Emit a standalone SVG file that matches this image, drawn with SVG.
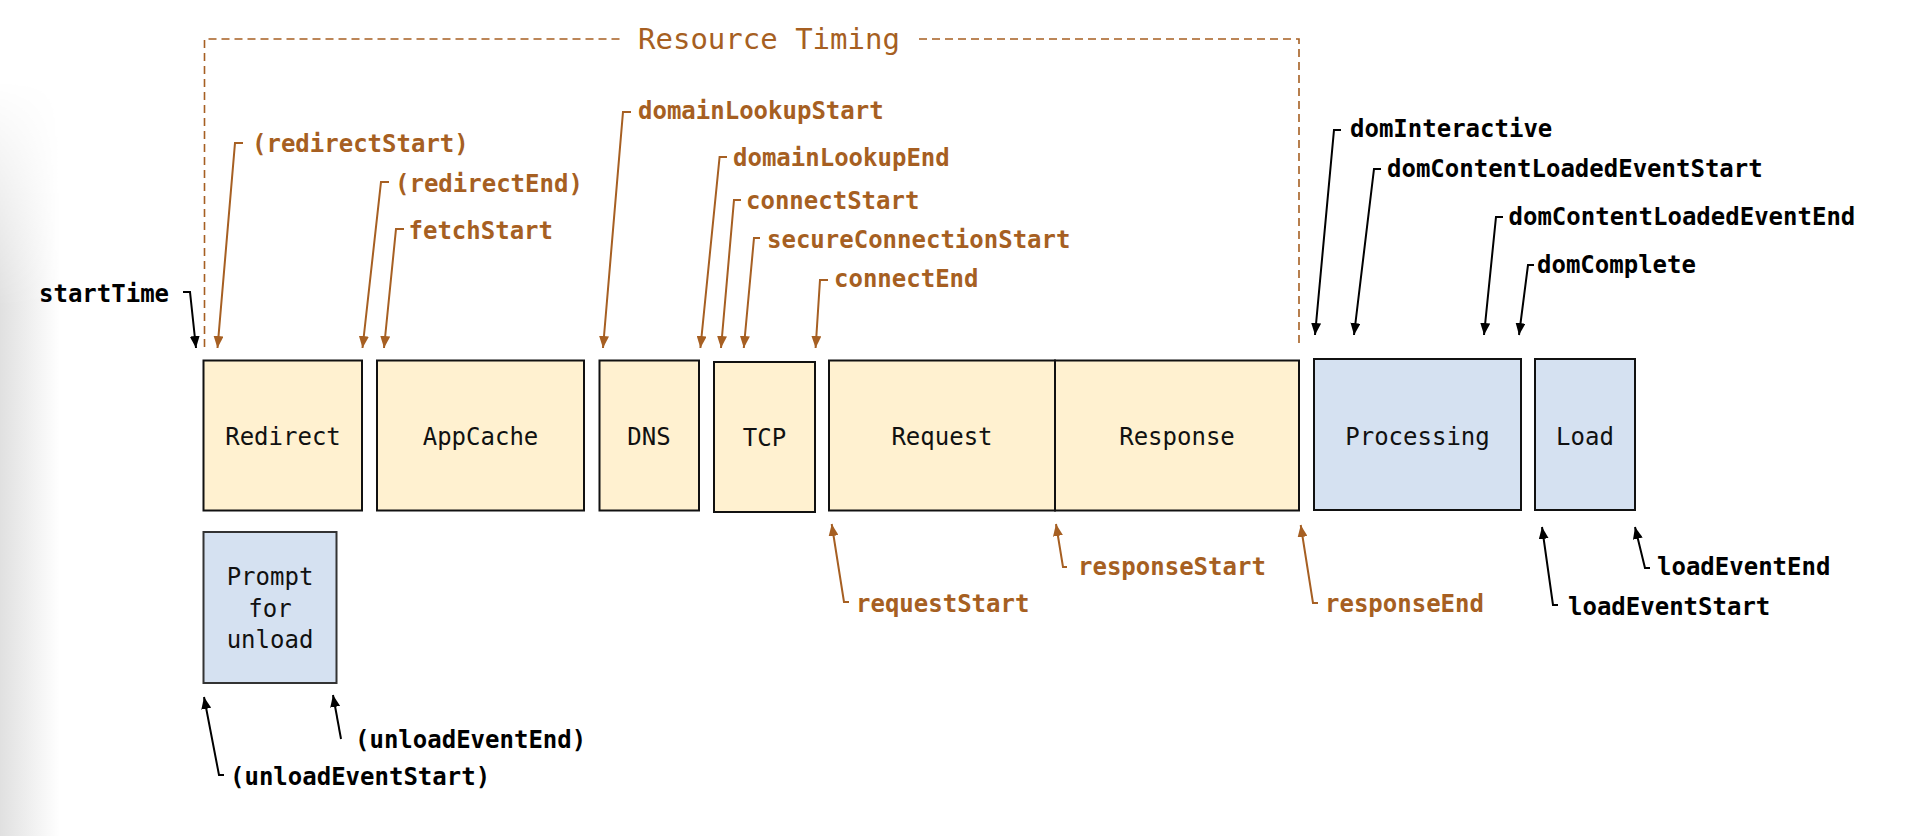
<svg xmlns="http://www.w3.org/2000/svg" width="1930" height="836" viewBox="0 0 1930 836">
  <defs>
    <linearGradient id="shadeH" x1="0" y1="0" x2="1" y2="0">
      <stop offset="0" stop-color="#e0e0e0"/>
      <stop offset="1" stop-color="#ffffff"/>
    </linearGradient>
    <linearGradient id="shadeV" x1="0" y1="0" x2="0" y2="1">
      <stop offset="0" stop-color="#000"/>
      <stop offset="0.3" stop-color="#fff"/>
      <stop offset="1" stop-color="#fff"/>
    </linearGradient>
    <mask id="shadeMask">
      <rect x="0" y="80" width="60" height="756" fill="url(#shadeV)"/>
    </mask>
    <marker id="ab" viewBox="0 0 12 10" refX="12" refY="5" markerWidth="12" markerHeight="10" markerUnits="userSpaceOnUse" orient="auto">
      <path d="M0,0 L12,5 L0,10 z" fill="#a65f22"/>
    </marker>
    <marker id="ak" viewBox="0 0 12 10" refX="12" refY="5" markerWidth="12" markerHeight="10" markerUnits="userSpaceOnUse" orient="auto">
      <path d="M0,0 L12,5 L0,10 z" fill="#000"/>
    </marker>
    <style>
      .box { stroke: #111; stroke-width: 2; }
      .res { fill: #fff1d0; }
      .nav { fill: #d5e1f1; }
      .bl { font-family: "DejaVu Sans Mono", "Liberation Mono", monospace; font-size: 24px; fill: #111; text-anchor: middle; }
      .lb { font-family: "DejaVu Sans Mono", "Liberation Mono", monospace; font-size: 24px; font-weight: bold; }
      .brown { fill: #a65f22; }
      .black { fill: #000; }
      .cb { fill: none; stroke: #a65f22; stroke-width: 2; marker-end: url(#ab); }
      .ck { fill: none; stroke: #000; stroke-width: 2; marker-end: url(#ak); }
      .dash { fill: none; stroke: #a65f22; stroke-width: 1.6; stroke-dasharray: 8 5; }
      .title { font-family: "DejaVu Sans Mono", "Liberation Mono", monospace; font-size: 29px; fill: #a65f22; }
    </style>
  </defs>

  <rect width="1930" height="836" fill="#fff"/>
  <rect x="0" y="80" width="60" height="756" fill="url(#shadeH)" mask="url(#shadeMask)"/>

  <!-- Resource Timing bracket -->
  <g id="resource-timing">
    <path class="dash" d="M204.5,347 L204.5,39 L624,39"/>
    <path class="dash" d="M919,39 L1299,39 L1299,347"/>
    <text class="title" x="638" y="49">Resource Timing</text>
  </g>

  <!-- Nodes -->
  <g id="node-redirect"><rect class="box res" x="203.5" y="360.5" width="158.5" height="150"/><text class="bl" x="283" y="445">Redirect</text></g>
  <g id="node-appcache"><rect class="box res" x="377" y="360.5" width="207" height="150"/><text class="bl" x="480.5" y="445">AppCache</text></g>
  <g id="node-dns"><rect class="box res" x="599.5" y="360.5" width="99.5" height="150"/><text class="bl" x="649" y="445">DNS</text></g>
  <g id="node-tcp"><rect class="box res" x="714" y="362" width="101" height="150"/><text class="bl" x="764.5" y="446">TCP</text></g>
  <g id="node-request"><rect class="box res" x="829" y="360.5" width="226" height="150"/><text class="bl" x="942" y="445">Request</text></g>
  <g id="node-response"><rect class="box res" x="1055" y="360.5" width="244" height="150"/><text class="bl" x="1177" y="445">Response</text></g>
  <g id="node-processing"><rect class="box nav" x="1314" y="359" width="207" height="151"/><text class="bl" x="1417.5" y="445">Processing</text></g>
  <g id="node-load"><rect class="box nav" x="1535" y="359" width="100" height="151"/><text class="bl" x="1585" y="445">Load</text></g>
  <g id="node-prompt"><rect class="box nav" x="203.5" y="532" width="133" height="151" style="stroke:#333"/>
    <text class="bl" x="270" y="585">Prompt</text>
    <text class="bl" x="270" y="617">for</text>
    <text class="bl" x="270" y="648">unload</text>
  </g>

  <!-- Connectors -->
  <g id="connectors">
    <path class="cb" d="M243,143 L235,143 L217.5,348"/>
    <path class="cb" d="M389,182 L381,182 L362.5,348"/>
    <path class="cb" d="M404,229 L396,229 L384,348"/>
    <path class="cb" d="M631,112 L623,112 L603,348"/>
    <path class="cb" d="M727,157 L719.6,157 L700.4,348"/>
    <path class="cb" d="M741,200 L734,200 L721,348"/>
    <path class="cb" d="M760,238 L754,238 L743.8,348"/>
    <path class="cb" d="M828,280 L820,280 L815.6,348"/>
    <path class="cb" d="M849,602 L844,602 L831.7,524"/>
    <path class="cb" d="M1067,567 L1063,567 L1056,524"/>
    <path class="cb" d="M1318,603 L1313,603 L1300.7,525"/>

    <path class="ck" d="M183,292 L190,292 L196,348"/>
    <path class="ck" d="M1341,130 L1334,130 L1315,335"/>
    <path class="ck" d="M1381,169 L1374,169 L1354,335"/>
    <path class="ck" d="M1503,217 L1496,217 L1484,335"/>
    <path class="ck" d="M1534,265 L1528,265 L1519,335"/>
    <path class="ck" d="M1558,605 L1553,605 L1542,527"/>
    <path class="ck" d="M1650,568 L1645,568 L1635,527"/>
    <path class="ck" d="M224,775 L219,775 L204,697"/>
    <path class="ck" d="M341,739 L333,695"/>
  </g>

  <!-- Labels -->
  <g id="labels">
    <text class="lb brown" x="252" y="152">(redirectStart)</text>
    <text class="lb brown" x="395" y="192">(redirectEnd)</text>
    <text class="lb brown" x="408.5" y="239">fetchStart</text>
    <text class="lb brown" x="638" y="119">domainLookupStart</text>
    <text class="lb brown" x="733" y="166">domainLookupEnd</text>
    <text class="lb brown" x="746" y="209">connectStart</text>
    <text class="lb brown" x="767" y="248">secureConnectionStart</text>
    <text class="lb brown" x="834" y="287">connectEnd</text>
    <text class="lb brown" x="856" y="612">requestStart</text>
    <text class="lb brown" x="1078" y="575">responseStart</text>
    <text class="lb brown" x="1325" y="612">responseEnd</text>

    <text class="lb black" x="39" y="302">startTime</text>
    <text class="lb black" x="1350" y="137">domInteractive</text>
    <text class="lb black" x="1387" y="177">domContentLoadedEventStart</text>
    <text class="lb black" x="1508.5" y="225">domContentLoadedEventEnd</text>
    <text class="lb black" x="1537" y="273">domComplete</text>
    <text class="lb black" x="1568" y="615">loadEventStart</text>
    <text class="lb black" x="1657" y="575">loadEventEnd</text>
    <text class="lb black" x="230" y="785">(unloadEventStart)</text>
    <text class="lb black" x="355" y="748">(unloadEventEnd)</text>
  </g>
</svg>
